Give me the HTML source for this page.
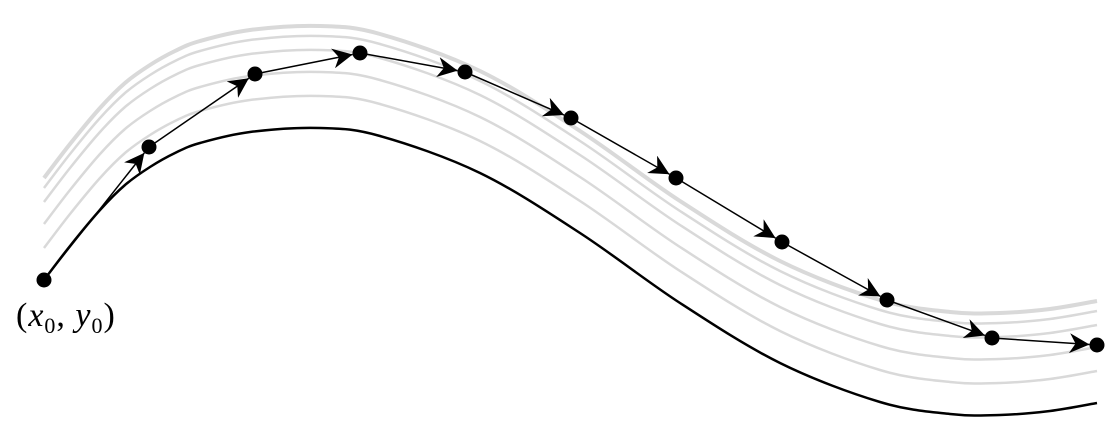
<!DOCTYPE html>
<html><head><meta charset="utf-8"><style>
html,body{margin:0;padding:0;background:#fff;width:1120px;height:441px;overflow:hidden}
svg{display:block}
</style></head><body>
<svg id="chart" width="1120" height="441" viewBox="0 0 1120 441">
<defs>
<marker id="arrow" viewBox="0 0 10 10" refX="10" refY="5" markerWidth="28" markerHeight="20" markerUnits="userSpaceOnUse" orient="auto">
<path d="M0,0 L10,5 L0,10 L3,5 z" fill="#000"/>
</marker>
</defs>
<g id="curves"></g>
<g id="steps"></g>
<text x="16" y="326" font-family="'Liberation Serif',serif" font-size="34" fill="#000" letter-spacing="1">(<tspan font-style="italic">x</tspan><tspan font-size="22" dy="7">0</tspan><tspan dy="-7">, </tspan><tspan font-style="italic">y</tspan><tspan font-size="22" dy="7">0</tspan><tspan dy="-7">)</tspan></text>
</svg>
<script>
// Euler step points
const stepX = [44, 149, 255, 360, 465, 571, 676, 782, 887, 992, 1097];
const stepY = [280, 147, 74, 53, 72, 118, 178, 242, 300, 338, 345];
// exact solution samples
const exactX = [44, 70, 100, 125, 150, 175, 200, 250, 320, 380, 480, 580, 680, 780, 880, 950, 1000, 1050, 1097];
const exactY = [280, 246, 210, 185, 167, 153, 143, 132, 128, 136, 173, 233, 303, 363, 402, 414, 415, 411, 403];
// vertical offsets of gray solution curves above the exact solution
const familyOffsets = [102, 92, 78, 56, 32];
const familyWidths = [4, 2.5, 2.5, 2.5, 2.5];

const NS = "http://www.w3.org/2000/svg";
function catmull(xs, ys) {
  let d = 'M' + xs[0] + ',' + ys[0];
  for (let i = 0; i < xs.length - 1; i++) {
    const x0 = xs[Math.max(i-1,0)], y0 = ys[Math.max(i-1,0)];
    const x1 = xs[i], y1 = ys[i], x2 = xs[i+1], y2 = ys[i+1];
    const x3 = xs[Math.min(i+2,xs.length-1)], y3 = ys[Math.min(i+2,xs.length-1)];
    d += ' C' + (x1 + (x2-x0)/6) + ',' + (y1 + (y2-y0)/6) + ' ' + (x2 - (x3-x1)/6) + ',' + (y2 - (y3-y1)/6) + ' ' + x2 + ',' + y2;
  }
  return d;
}
const basePath = catmull(exactX, exactY);
const curves = document.getElementById('curves');
familyOffsets.forEach((off, i) => {
  const p = document.createElementNS(NS, 'path');
  p.setAttribute('d', basePath);
  p.setAttribute('transform', 'translate(0,' + (-off) + ')');
  p.setAttribute('fill', 'none');
  p.setAttribute('stroke', '#d9d9d9');
  p.setAttribute('stroke-width', familyWidths[i]);
  
  
  curves.appendChild(p);
});
const exact = document.createElementNS(NS, 'path');
exact.setAttribute('d', basePath);
exact.setAttribute('fill', 'none');
exact.setAttribute('stroke', '#000');
exact.setAttribute('stroke-width', '2.5');


curves.appendChild(exact);

const steps = document.getElementById('steps');
const R = 7.5;
for (let i = 0; i < stepX.length - 1; i++) {
  const x1 = stepX[i], y1 = stepY[i], x2 = stepX[i+1], y2 = stepY[i+1];
  const dx = x2 - x1, dy = y2 - y1, L = Math.hypot(dx, dy);
  const l = document.createElementNS(NS, 'line');
  l.setAttribute('x1', x1); l.setAttribute('y1', y1);
  l.setAttribute('x2', x2 - dx / L * R); l.setAttribute('y2', y2 - dy / L * R);
  l.setAttribute('stroke', '#000');
  l.setAttribute('stroke-width', '1.5');
  l.setAttribute('marker-end', 'url(#arrow)');
  
  
  steps.appendChild(l);
}
for (let i = 0; i < stepX.length; i++) {
  const c = document.createElementNS(NS, 'circle');
  c.setAttribute('cx', stepX[i]); c.setAttribute('cy', stepY[i]); c.setAttribute('r', R);
  c.setAttribute('fill', '#000');
  
  
  steps.appendChild(c);
}
</script>
</body></html>
